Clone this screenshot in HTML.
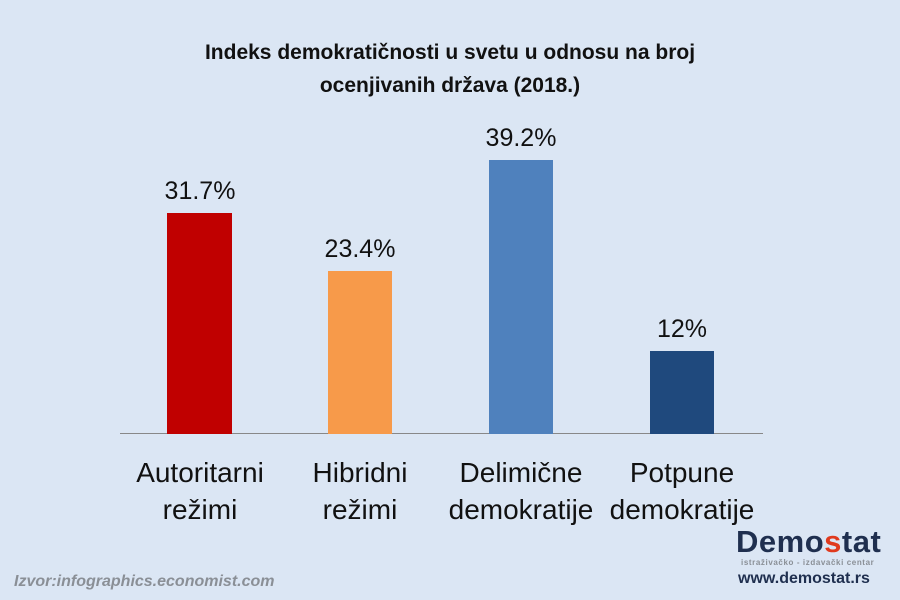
<!DOCTYPE html>
<html><head><meta charset="utf-8"><style>
body{margin:0;width:900px;height:600px;background:#dbe6f4;position:relative;overflow:hidden;font-family:"Liberation Sans",sans-serif}
.t{position:absolute;left:0;width:900px;text-align:center;font-weight:bold;font-size:21px;color:#111}
.b{position:absolute}
.v,.c{position:absolute;width:200px;text-align:center;color:#111}
.v{font-size:25px}
.c{font-size:28px;line-height:37px}
</style></head><body>
<div class="t" style="top:41px">Indeks demokratičnosti u svetu u odnosu na broj</div>
<div class="t" style="top:74px">ocenjivanih država (2018.)</div>
<div class="b" style="left:120px;top:433px;width:643px;height:1px;background:#888"></div>
<div class="b" style="left:167px;top:213px;width:65px;height:221px;background:#c00000"></div>
<div class="b" style="left:328px;top:271px;width:64px;height:163px;background:#f79a4a"></div>
<div class="b" style="left:489px;top:160px;width:64px;height:274px;background:#4f81bd"></div>
<div class="b" style="left:650px;top:351px;width:64px;height:83px;background:#1f497d"></div>
<div class="v" style="left:100px;top:177px">31.7%</div>
<div class="v" style="left:260px;top:235px">23.4%</div>
<div class="v" style="left:421px;top:124px">39.2%</div>
<div class="v" style="left:582px;top:315px">12%</div>
<div class="c" style="left:100px;top:454px">Autoritarni<br>režimi</div>
<div class="c" style="left:260px;top:454px">Hibridni<br>režimi</div>
<div class="c" style="left:421px;top:454px">Delimične<br>demokratije</div>
<div class="c" style="left:582px;top:454px">Potpune<br>demokratije</div>
<div style="position:absolute;left:14px;top:573px;font-size:16px;font-weight:bold;font-style:italic;color:#8a8f96">Izvor:infographics.economist.com</div>
<div style="position:absolute;left:736px;top:525px;font-size:31px;font-weight:bold;color:#1f2f4f;letter-spacing:0.5px;line-height:34px">Demo<span style="color:#e03a1e">s</span>tat</div>
<div style="position:absolute;left:741px;top:558px;font-size:8px;font-weight:bold;color:#8a8f96;letter-spacing:0.6px">istraživačko - izdavački centar</div>
<div style="position:absolute;left:738px;top:570px;font-size:16px;font-weight:bold;color:#1f2f4f">www.demostat.rs</div>
</body></html>
